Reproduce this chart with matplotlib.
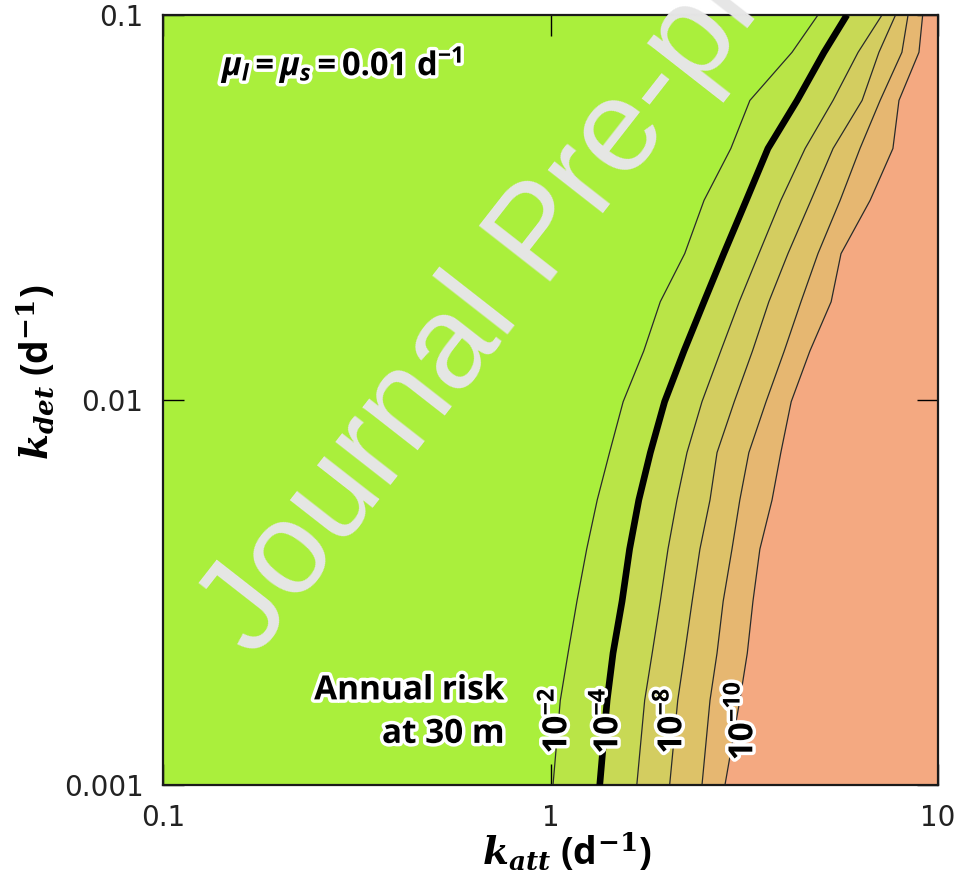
import numpy as np
import matplotlib
matplotlib.use("Agg")
import matplotlib.pyplot as plt
import matplotlib.patheffects as pe
from matplotlib.ticker import NullLocator

# k_det rows (d-1) at which the contour positions were read
k_det = [0.1, 0.08, 0.06, 0.045, 0.033, 0.024, 0.018, 0.0134,
         0.0099, 0.0073, 0.0055, 0.0041, 0.003, 0.0022, 0.00166, 0.001]

# annual risk levels (log10) of the contour lines
risk_exp = [-2, -4, -6, -8, -9, -10]

# k_att (d-1) of each contour line along the k_det rows
k_att_m2 = [4.90, 4.20, 3.27, 2.92, 2.49, 2.22, 1.92, 1.74,
            1.54, 1.42, 1.32, 1.24, 1.17, 1.11, 1.06, 1.015]
k_att_m4 = [5.82, 5.08, 4.33, 3.64, 3.20, 2.80, 2.49, 2.21,
            1.97, 1.81, 1.69, 1.60, 1.53, 1.45, 1.40, 1.34]
k_att_m6 = [7.17, 6.22, 5.36, 4.54, 3.93, 3.45, 3.07, 2.75,
            2.46, 2.25, 2.12, 2.01, 1.92, 1.83, 1.75, 1.67]
k_att_m8 = [7.77, 7.04, 6.37, 5.36, 4.70, 4.10, 3.66, 3.32,
            2.98, 2.69, 2.58, 2.43, 2.32, 2.22, 2.13, 2.03]
k_att_m9 = [8.37, 8.07, 7.09, 6.29, 5.59, 4.90, 4.43, 4.01,
            3.60, 3.25, 3.08, 2.94, 2.79, 2.69, 2.58, 2.46]
k_att_m10 = [9.13, 8.93, 7.93, 7.65, 6.68, 5.62, 5.30, 4.67,
             4.18, 3.93, 3.73, 3.47, 3.33, 3.22, 3.08, 2.82]

contours = [k_att_m2, k_att_m4, k_att_m6, k_att_m8, k_att_m9, k_att_m10]
labelled = [-2, -4, -8, -10]
label_x = [1.04, 1.41, 2.06, 3.14]

band_colors = ["#aaef3c", "#b9e547", "#c8d955", "#d3cd60",
               "#ddc268", "#e6b771", "#f4a981"]

fig = plt.figure(figsize=(9.63, 8.86), dpi=100)
ax = fig.add_axes([163 / 963, 1 - 785 / 886, 775 / 963, 770 / 886])
ax.set_xscale("log")
ax.set_yscale("log")

# coloured bands between the risk contours
edges = [[0.1] * len(k_det)] + contours + [[10] * len(k_det)]
for i in range(len(edges) - 1):
    ax.fill_betweenx(k_det, edges[i], edges[i + 1], color=band_colors[i],
                     lw=0.6, edgecolor=band_colors[i], zorder=1)

for e, xs in zip(risk_exp, contours):
    if e == -4:
        ax.plot(xs, k_det, color="black", lw=4.8, solid_capstyle="butt",
                solid_joinstyle="round", zorder=3)
    else:
        ax.plot(xs, k_det, color="#2a2a2a", lw=0.9, zorder=2)

ax.set_xlim(0.1, 10)
ax.set_ylim(0.001, 0.1)
ax.set_xticks([0.1, 1, 10])
ax.set_xticklabels(["0.1", "1", "10"])
ax.set_yticks([0.001, 0.01, 0.1])
ax.set_yticklabels(["0.001", "0.01", "0.1"])
ax.xaxis.set_minor_locator(NullLocator())
ax.yaxis.set_minor_locator(NullLocator())
ax.tick_params(direction="in", length=15, width=1, top=True, right=True,
               labelsize=20, labelcolor="#222222")
ax.tick_params(axis="x", pad=14)
ax.tick_params(axis="y", pad=14)
for s in ax.spines.values():
    s.set_linewidth(1.6)
    s.set_color("#1a1a1a")

plt.rcParams["mathtext.fontset"] = "custom"
plt.rcParams["mathtext.it"] = "Open Sans:italic:bold"
plt.rcParams["mathtext.rm"] = "Open Sans:bold"
plt.rcParams["mathtext.bf"] = "Open Sans:bold"

halo = [pe.withStroke(linewidth=5, foreground="white")]

# contour labels
for e, lx in zip(labelled, label_x):
    ax.text(lx, 0.00147, "10$^{\\mathbf{%d}}$" % e, rotation=90,
            ha="center", va="center", fontsize=24, fontweight="bold",
            family="Open Sans", path_effects=halo, zorder=5)

ax.text(0.441, 0.094, "Annual risk\nat 30 m", transform=ax.transAxes,
        ha="right", va="center", fontsize=24, fontweight="bold",
        family="Open Sans", linespacing=1.42, path_effects=halo, zorder=5)

ax.text(0.076, 0.935, r"$\mu_l = \mu_s = 0.01\ \mathrm{d}^{-1}$",
        transform=ax.transAxes, ha="left", va="center", fontsize=23.5,
        math_fontfamily="custom", path_effects=halo, zorder=5)

# axis labels
fig.text(567 / 963, 1 - 853 / 886,
         r"$\mathbfit{k}_{\mathbfit{att}}$ (d$^{\mathbf{-1}}$)",
         ha="center", va="center", fontsize=27, fontweight="bold",
         family="Open Sans", math_fontfamily="dejavuserif")
fig.text(37 / 963, 1 - 372 / 886,
         r"$\mathbfit{k}_{\mathbfit{det}}$ (d$^{\mathbf{-1}}$)",
         ha="center", va="center", fontsize=27, fontweight="bold",
         family="Open Sans", rotation=90, math_fontfamily="dejavuserif")

# watermark
fig.text(255 / 963, 1 - 659 / 886, "Journal Pre-proof", rotation=52,
         rotation_mode="anchor", ha="left", va="baseline", fontsize=95,
         color="#e6e6e6", family="Liberation Sans", zorder=10)

fig.savefig("out.png", dpi=100)
